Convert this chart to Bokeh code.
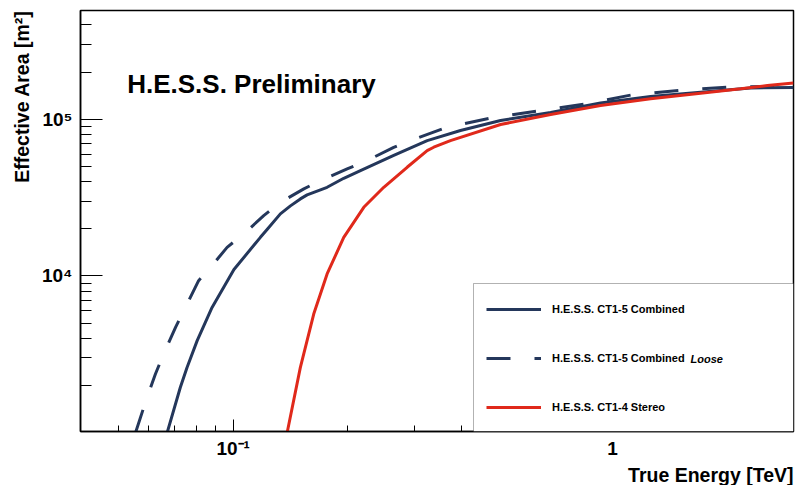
import numpy as np
from bokeh.plotting import figure
from bokeh.models import (Range1d, FixedTicker, Label, Legend, LegendItem,
                          BoxAnnotation, Title)
from bokeh.embed import file_html
from bokeh.resources import INLINE

# ---- data ----
combined_energy = [0.0670, 0.0726, 0.0756, 0.0804, 0.0880, 0.1005, 0.1180, 0.1229, 0.1332,
                   0.1416, 0.1504, 0.1567, 0.1769, 0.1957, 0.2166, 0.2651, 0.3248, 0.3975,
                   0.507, 0.687, 0.930, 1.26, 1.707, 2.31, 3.0]
combined_area = [1000, 1950, 2610, 3870, 6300, 11000, 17640, 19800, 24900,
                 28000, 31020, 32900, 36800, 42000, 47000, 58800, 73100, 84700,
                 98100, 110400, 126900, 139700, 148700, 158200, 159400]

loose_energy = [0.0553, 0.0593, 0.0624, 0.0656, 0.0705, 0.0741, 0.0811, 0.0872,
                0.0964, 0.1067, 0.1204, 0.1333, 0.1536, 0.1699, 0.1998, 0.2256,
                0.265, 0.2934, 0.3666, 0.4855, 0.646, 0.86, 1.137, 1.54, 2.08, 3.0]
loose_area = [1000, 1680, 2370, 3180, 4700, 6000, 9330, 11350,
              15230, 18540, 24260, 29510, 35940, 40610, 48200, 54500,
              66200, 73100, 88900, 102500, 113600, 126000, 143800, 153600, 161000, 162000]

stereo_energy = [0.1388, 0.1504, 0.1631, 0.1769, 0.1957, 0.2210, 0.2495, 0.2875,
                 0.3247, 0.3379, 0.374, 0.507, 0.687, 0.930, 1.26, 1.707, 2.18, 2.56, 3.0]
stereo_area = [1000, 2610, 5715, 10300, 17640, 27420, 36810, 49380,
               63100, 66300, 73100, 92500, 107200, 122300, 135000, 146600, 156300, 164000, 170300]

series_labels = ["H.E.S.S. CT1-5 Combined", "H.E.S.S. CT1-5 Combined", "H.E.S.S. CT1-4 Stereo"]
loose_suffix = "Loose"

x_major = [0.1, 1.0]
x_minor = [0.05, 0.06, 0.07, 0.08, 0.09, 0.2, 0.3, 0.4, 0.5, 0.6, 0.7, 0.8, 0.9, 2.0]
y_major = [1e4, 1e5]
y_minor = [2e3, 3e3, 4e3, 5e3, 6e3, 7e3, 8e3, 9e3,
           2e4, 3e4, 4e4, 5e4, 6e4, 7e4, 8e4, 9e4, 2e5, 3e5, 4e5]
x_tick_labels = ["10\u207b\u00b9", "1"]
y_tick_labels = ["10\u2074", "10\u2075"]

NAVY = "#24375B"
RED = "#E0291B"
FONT = "Liberation Sans"

p = figure(width=795, height=485, x_axis_type="log", y_axis_type="log",
           x_range=Range1d(0.0396, 3.0), y_range=Range1d(1018, 4.94e5),
           output_backend="svg", toolbar_location=None,
           min_border_left=80, min_border_right=2, min_border_top=10, min_border_bottom=54)
p.grid.visible = False
p.background_fill_color = "white"
p.border_fill_color = "white"
p.outline_line_color = "black"
p.outline_line_width = 1.5

for ax, maj, mnr, labs, tin, tmin, so in ((p.xaxis, x_major, x_minor, x_tick_labels, 12, 6, 6),
                                          (p.yaxis, y_major, y_minor, y_tick_labels, 22, 11, 8)):
    ax.ticker = FixedTicker(ticks=maj, minor_ticks=mnr)
    ax.major_label_overrides = {t: l for t, l in zip(maj, labs)}
    ax.major_tick_in = tin
    ax.major_tick_out = 0
    ax.minor_tick_in = tmin
    ax.minor_tick_out = 0
    ax.axis_line_color = "black"
    ax.axis_line_width = 1.5
    ax.major_tick_line_color = "black"
    ax.minor_tick_line_color = "black"
    ax.major_label_standoff = so
    ax.major_label_text_font = FONT
    ax.major_label_text_font_style = "bold"
    ax.major_label_text_font_size = "19px"
    ax.major_label_text_color = "black"

r1 = p.line(combined_energy, combined_area, line_color=NAVY, line_width=3)
r2 = p.line(loose_energy, loose_area, line_color=NAVY, line_width=3, line_dash="24 24")
r3 = p.line(stereo_energy, stereo_area, line_color=RED, line_width=3)

# axis titles (right-aligned, ROOT style)
p.add_layout(Title(text="True Energy [TeV]", align="right", standoff=0,
                   text_font=FONT, text_font_style="bold", text_font_size="19.5px",
                   text_color="black"), "below")
p.add_layout(Title(text="Effective Area [m\u00b2]", align="right", standoff=12,
                   text_font=FONT, text_font_style="bold", text_font_size="19.5px",
                   text_color="black"), "left")

# title
p.add_layout(Label(x=46.7, y=347.7, x_units="screen", y_units="screen", text="H.E.S.S. Preliminary",
                   text_align="left", text_baseline="alphabetic", text_color="black",
                   text_font=FONT, text_font_style="bold", text_font_size="26px"))

# legend
box = BoxAnnotation(left=393, right=713, bottom=0, top=148,
                    left_units="screen", right_units="screen", bottom_units="screen", top_units="screen",
                    fill_color="white", fill_alpha=1, line_color="black", line_width=1)
p.add_layout(box)
legend = Legend(items=[LegendItem(label=series_labels[0], renderers=[r1]),
                       LegendItem(label=series_labels[1], renderers=[r2]),
                       LegendItem(label=series_labels[2], renderers=[r3])],
                location=(393, -2), margin=0, padding=13, spacing=23,
                label_height=26, glyph_height=26, glyph_width=55, label_standoff=11,
                label_text_font=FONT, label_text_font_style="bold", label_text_font_size="11px",
                label_text_color="black", border_line_alpha=0, background_fill_alpha=0)
p.add_layout(legend)
p.add_layout(Label(x=610, y=72.7, x_units="screen", y_units="screen", text=loose_suffix,
                   text_align="left", text_baseline="middle", text_color="black",
                   text_font=FONT, text_font_style="bold italic", text_font_size="11px"))

open("out.html", "w").write(file_html(p, INLINE))
